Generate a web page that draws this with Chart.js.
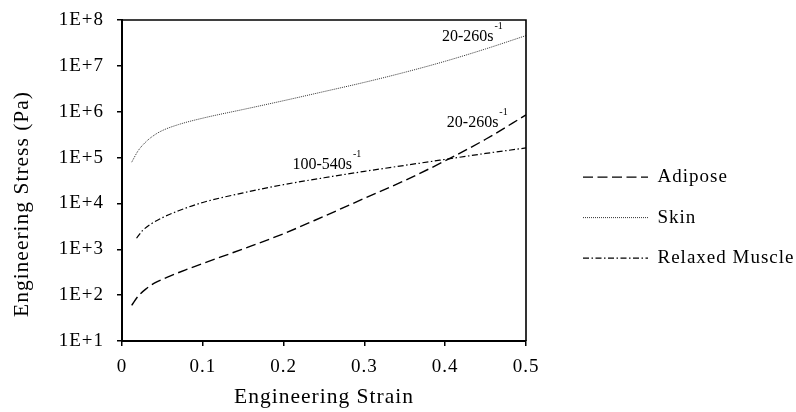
<!DOCTYPE html>
<html><head><meta charset="utf-8">
<script src="https://cdn.jsdelivr.net/npm/chart.js@4.4.1/dist/chart.umd.min.js"></script>
<style>html,body{margin:0;padding:0;background:#fff;}</style>
</head><body>
<canvas id="c" width="796" height="412"></canvas>
<script>
const seriesNames = ['Adipose', 'Skin', 'Relaxed Muscle'];
const strainAdipose = [0.012, 0.02, 0.03, 0.04, 0.06, 0.08, 0.1, 0.15, 0.2, 0.25, 0.3, 0.35, 0.4, 0.45, 0.5];
const stressAdipose = [60, 95, 138, 182, 263, 363, 490, 1020, 2190, 5250, 12900, 31600, 85100, 251000, 851000];
const strainSkin = [0.012, 0.02, 0.03, 0.04, 0.05, 0.07, 0.1, 0.15, 0.2, 0.25, 0.3, 0.35, 0.4, 0.45, 0.5];
const stressSkin = [79400, 141000, 224000, 309000, 389000, 525000, 724000, 1120000, 1740000, 2750000, 4370000, 7240000, 12600000, 23400000, 45700000];
const strainMuscle = [0.018, 0.025, 0.035, 0.05, 0.07, 0.1, 0.15, 0.2, 0.25, 0.3, 0.35, 0.4, 0.45, 0.5];
const stressMuscle = [1740, 2510, 3470, 4900, 6920, 10500, 17000, 25700, 36300, 50100, 67600, 91200, 123000, 162000];
const xTickValues = [0, 0.1, 0.2, 0.3, 0.4, 0.5];
const yTickValues = [1e1, 1e2, 1e3, 1e4, 1e5, 1e6, 1e7, 1e8];
const rateLabels = ['20-260s', '20-260s', '100-540s'];
const rateLabelStrain = [0.396, 0.402, 0.211];
const rateLabelStress = [3.48e7, 4.64e5, 5.64e4];
const xTitle = 'Engineering Strain';
const yTitle = 'Engineering Stress (Pa)';

const FONT = "'Liberation Serif','Times New Roman',serif";
const SPACING = '1px';

const toPoints = (xs, ys) => xs.map((v, i) => ({x: v, y: ys[i]}));

const spacingPlugin = {
  id: 'spacing',
  beforeUpdate(chart) { chart.ctx.letterSpacing = SPACING; },
  beforeLayout(chart) { chart.ctx.letterSpacing = SPACING; },
  beforeDraw(chart) { chart.ctx.letterSpacing = SPACING; }
};

const framePlugin = {
  id: 'frame',
  afterDatasetsDraw(chart) {
    const {ctx, chartArea: a} = chart;
    ctx.save();
    ctx.strokeStyle = '#000';
    ctx.lineWidth = 1.6;
    ctx.beginPath();
    ctx.moveTo(a.left, a.top);
    ctx.lineTo(a.right, a.top);
    ctx.lineTo(a.right, a.bottom);
    ctx.stroke();
    ctx.restore();
  }
};

const ratePlugin = {
  id: 'rates',
  afterDatasetsDraw(chart) {
    const {ctx, scales: {x, y}} = chart;
    ctx.save();
    ctx.letterSpacing = '0px';
    ctx.fillStyle = '#000';
    ctx.textBaseline = 'alphabetic';
    ctx.textAlign = 'left';
    rateLabels.forEach((t, i) => {
      const px = x.getPixelForValue(rateLabelStrain[i]);
      const py = y.getPixelForValue(rateLabelStress[i]);
      ctx.font = '16px ' + FONT;
      ctx.fillText(t, px, py);
      const w = ctx.measureText(t).width;
      ctx.font = '10px ' + FONT;
      ctx.fillText('-1', px + w + 1, py - 12);
    });
    ctx.restore();
  }
};

const yTitlePlugin = {
  id: 'ytitle',
  afterDraw(chart) {
    const {ctx, chartArea: a, scales: {y}} = chart;
    ctx.save();
    ctx.letterSpacing = SPACING;
    ctx.font = '21.5px ' + FONT;
    ctx.fillStyle = '#000';
    ctx.translate(y.left + 28, a.bottom - 24);
    ctx.rotate(-Math.PI / 2);
    ctx.textAlign = 'left';
    ctx.textBaseline = 'alphabetic';
    ctx.fillText(yTitle, 0, 0);
    ctx.restore();
  }
};

const tickFont = {family: FONT, size: 19};
const gridOpts = {drawOnChartArea: false, drawTicks: true, tickLength: 5, color: '#000', lineWidth: 1.5};

new Chart(document.getElementById('c'), {
  type: 'line',
  data: {
    datasets: [
      {label: seriesNames[0], data: toPoints(strainAdipose, stressAdipose), borderColor: '#000', backgroundColor: '#000',
       borderWidth: 1.4, borderDash: [10, 4.5], pointRadius: 0, fill: false, cubicInterpolationMode: 'monotone'},
      {label: seriesNames[1], data: toPoints(strainSkin, stressSkin), borderColor: '#333', backgroundColor: '#333',
       borderWidth: 1, borderDash: [1, 1], pointRadius: 0, fill: false, cubicInterpolationMode: 'monotone'},
      {label: seriesNames[2], data: toPoints(strainMuscle, stressMuscle), borderColor: '#000', backgroundColor: '#000',
       borderWidth: 1.2, borderDash: [6, 2.5, 1.5, 2.5], pointRadius: 0, fill: false, cubicInterpolationMode: 'monotone'}
    ]
  },
  options: {
    responsive: false,
    animation: false,
    devicePixelRatio: 1,
    layout: {padding: {top: 20, right: 0, bottom: 0, left: 0}},
    plugins: {
      legend: {
        position: 'right', align: 'center', maxWidth: 234.5,
        title: {display: true, text: ' ', font: {size: 1}, padding: {top: 2, bottom: 0}},
        labels: {
          usePointStyle: true, pointStyle: 'line', pointStyleWidth: 65, padding: 21.5, color: '#000',
          font: {family: FONT, size: 19},
          generateLabels(chart) {
            const items = Chart.defaults.plugins.legend.labels.generateLabels(chart);
            items.forEach(it => {
              const d = chart.data.datasets[it.datasetIndex];
              it.lineDash = d.borderDash;
              it.lineWidth = d.borderWidth;
              it.strokeStyle = d.borderColor;
              it.fontColor = '#000';
            });
            return items;
          }
        }
      },
      tooltip: {enabled: false}
    },
    scales: {
      x: {
        type: 'linear', min: 0, max: 0.5,
        afterFit(s) { s.height = 71; s.paddingLeft = 0; s.paddingRight = 0; },
        afterBuildTicks(s) { s.ticks = xTickValues.map(v => ({value: v})); },
        ticks: {callback: v => String(v), color: '#000', padding: 10, font: tickFont, maxRotation: 0, autoSkip: false},
        grid: gridOpts,
        border: {display: true, color: '#000', width: 2},
        title: {display: true, text: xTitle, color: '#000', font: {family: FONT, size: 21.5}, padding: {top: 0, bottom: 2}}
      },
      y: {
        type: 'logarithmic', min: 10, max: 1e8,
        afterFit(s) { s.width = 122; s.paddingTop = 0; s.paddingBottom = 0; },
        afterBuildTicks(s) { s.ticks = yTickValues.map(v => ({value: v})); },
        ticks: {callback: v => '1E+' + Math.round(Math.log10(v)), color: '#000', padding: 13, font: tickFont, autoSkip: false},
        grid: gridOpts,
        border: {display: true, color: '#000', width: 2}
      },
      y2: {
        type: 'linear', position: 'right', display: true,
        afterFit(s) { s.width = 35.5; s.paddingTop = 0; s.paddingBottom = 0; },
        grid: {display: false}, ticks: {display: false}, border: {display: false}
      }
    }
  },
  plugins: [spacingPlugin, framePlugin, ratePlugin, yTitlePlugin]
});
</script>
</body></html>
